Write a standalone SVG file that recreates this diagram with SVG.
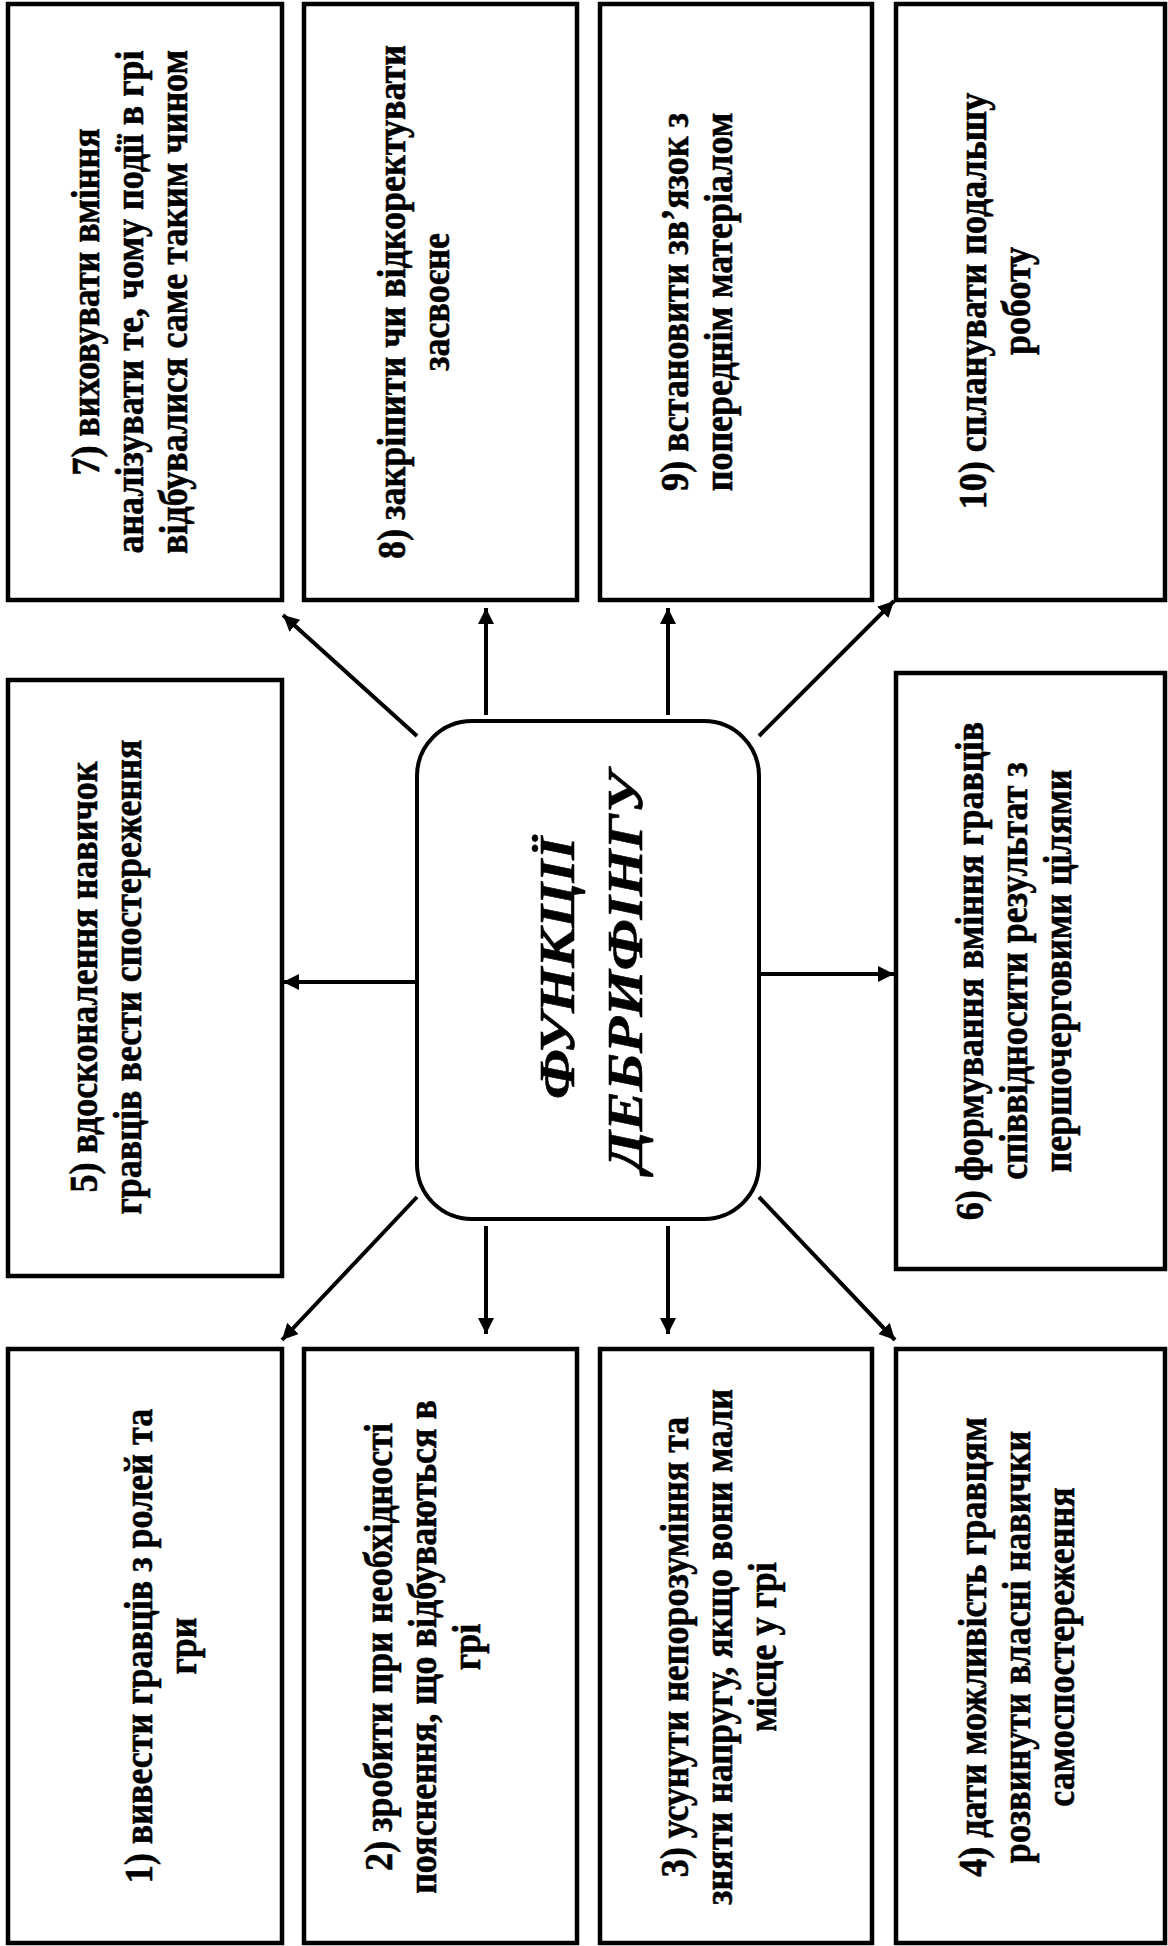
<svg xmlns="http://www.w3.org/2000/svg" width="1168" height="1946" viewBox="0 0 1168 1946">
<style>
.box{fill:#fff;stroke:#000;stroke-width:4.5}
.hub{fill:#fff;stroke:#000;stroke-width:4}
.t{font-family:"Liberation Serif","Times New Roman",serif;font-weight:bold;font-size:39px;fill:#000;stroke:#000;stroke-width:0.6;text-anchor:middle}
.h{font-family:"Liberation Serif","Times New Roman",serif;font-weight:bold;font-style:italic;font-size:51px;fill:#000;stroke:#000;stroke-width:0.6;text-anchor:middle}
.c{stroke:#000;stroke-width:4;fill:none;marker-end:url(#ah)}
</style>
<defs>
<marker id="ah" viewBox="0 0 16 16" refX="16" refY="8" markerWidth="16" markerHeight="16" orient="auto" markerUnits="userSpaceOnUse">
<path d="M0,0 L16,8 L0,16 z" fill="#000"/>
</marker>
</defs>
<rect width="1168" height="1946" fill="#fff"/>
<g id="connectors">
<line class="c" x1="486" y1="715" x2="486" y2="608"/>
<line class="c" x1="668" y1="715" x2="668" y2="608"/>
<line class="c" x1="417" y1="736" x2="283" y2="615"/>
<line class="c" x1="759" y1="736" x2="894" y2="601"/>
<line class="c" x1="417" y1="982" x2="283" y2="982"/>
<line class="c" x1="759" y1="974" x2="894" y2="974"/>
<line class="c" x1="417" y1="1197" x2="282" y2="1340"/>
<line class="c" x1="486" y1="1226" x2="486" y2="1334"/>
<line class="c" x1="668" y1="1226" x2="668" y2="1334"/>
<line class="c" x1="759" y1="1197" x2="895" y2="1340"/>
</g>
<g id="hub">
<rect class="hub" x="417" y="721" width="342" height="498" rx="55" ry="55"/>
<text class="h" transform="translate(574,968) rotate(-90)" textLength="262" lengthAdjust="spacingAndGlyphs">ФУНКЦІЇ</text>
<text class="h" transform="translate(642,972) rotate(-90)" textLength="400" lengthAdjust="spacingAndGlyphs">ДЕБРИФІНГУ</text>
</g>
<g id="n7">
<rect class="box" x="8" y="4" width="274" height="596"/>
<text class="t" transform="translate(99,302) rotate(-90) scale(0.923,1)">7) виховувати вміння</text>
<text class="t" transform="translate(143,302) rotate(-90) scale(0.923,1)">аналізувати те, чому події в грі</text>
<text class="t" transform="translate(187,302) rotate(-90) scale(0.923,1)">відбувалися саме таким чином</text>
</g>
<g id="n8">
<rect class="box" x="304" y="4" width="273" height="596"/>
<text class="t" transform="translate(405,302) rotate(-90) scale(0.923,1)">8) закріпити чи відкоректувати</text>
<text class="t" transform="translate(449,302) rotate(-90) scale(0.923,1)">засвоєне</text>
</g>
<g id="n9">
<rect class="box" x="600" y="4" width="272" height="596"/>
<text class="t" transform="translate(688,302) rotate(-90) scale(0.923,1)">9) встановити зв’язок з</text>
<text class="t" transform="translate(732,302) rotate(-90) scale(0.923,1)">попереднім матеріалом</text>
</g>
<g id="n10">
<rect class="box" x="896" y="4" width="269" height="596"/>
<text class="t" transform="translate(986,301) rotate(-90) scale(0.923,1)">10) спланувати подальшу</text>
<text class="t" transform="translate(1030,301) rotate(-90) scale(0.923,1)">роботу</text>
</g>
<g id="n5">
<rect class="box" x="8" y="680" width="274" height="596"/>
<text class="t" transform="translate(97,977) rotate(-90) scale(0.923,1)">5) вдосконалення навичок</text>
<text class="t" transform="translate(141,977) rotate(-90) scale(0.923,1)">гравців вести спостереження</text>
</g>
<g id="n6">
<rect class="box" x="896" y="673" width="269" height="596"/>
<text class="t" transform="translate(983,971) rotate(-90) scale(0.923,1)">6) формування вміння гравців</text>
<text class="t" transform="translate(1027,971) rotate(-90) scale(0.923,1)">співвідносити результат з</text>
<text class="t" transform="translate(1071,971) rotate(-90) scale(0.923,1)">першочерговими цілями</text>
</g>
<g id="n1">
<rect class="box" x="8" y="1349" width="274" height="594"/>
<text class="t" transform="translate(152,1646) rotate(-90) scale(0.923,1)">1) вивести гравців з ролей та</text>
<text class="t" transform="translate(196,1646) rotate(-90) scale(0.923,1)">гри</text>
</g>
<g id="n2">
<rect class="box" x="304" y="1349" width="273" height="594"/>
<text class="t" transform="translate(392,1647) rotate(-90) scale(0.923,1)">2) зробити при необхідності</text>
<text class="t" transform="translate(436,1647) rotate(-90) scale(0.923,1)">пояснення, що відбуваються в</text>
<text class="t" transform="translate(480,1647) rotate(-90) scale(0.923,1)">грі</text>
</g>
<g id="n3">
<rect class="box" x="600" y="1349" width="272" height="594"/>
<text class="t" transform="translate(688,1647) rotate(-90) scale(0.923,1)">3) усунути непорозуміння та</text>
<text class="t" transform="translate(732,1647) rotate(-90) scale(0.923,1)">зняти напругу, якщо вони мали</text>
<text class="t" transform="translate(776,1647) rotate(-90) scale(0.923,1)">місце у грі</text>
</g>
<g id="n4">
<rect class="box" x="896" y="1349" width="269" height="594"/>
<text class="t" transform="translate(986,1647) rotate(-90) scale(0.923,1)">4) дати можливість гравцям</text>
<text class="t" transform="translate(1030,1647) rotate(-90) scale(0.923,1)">розвинути власні навички</text>
<text class="t" transform="translate(1074,1647) rotate(-90) scale(0.923,1)">самоспостереження</text>
</g>
</svg>
